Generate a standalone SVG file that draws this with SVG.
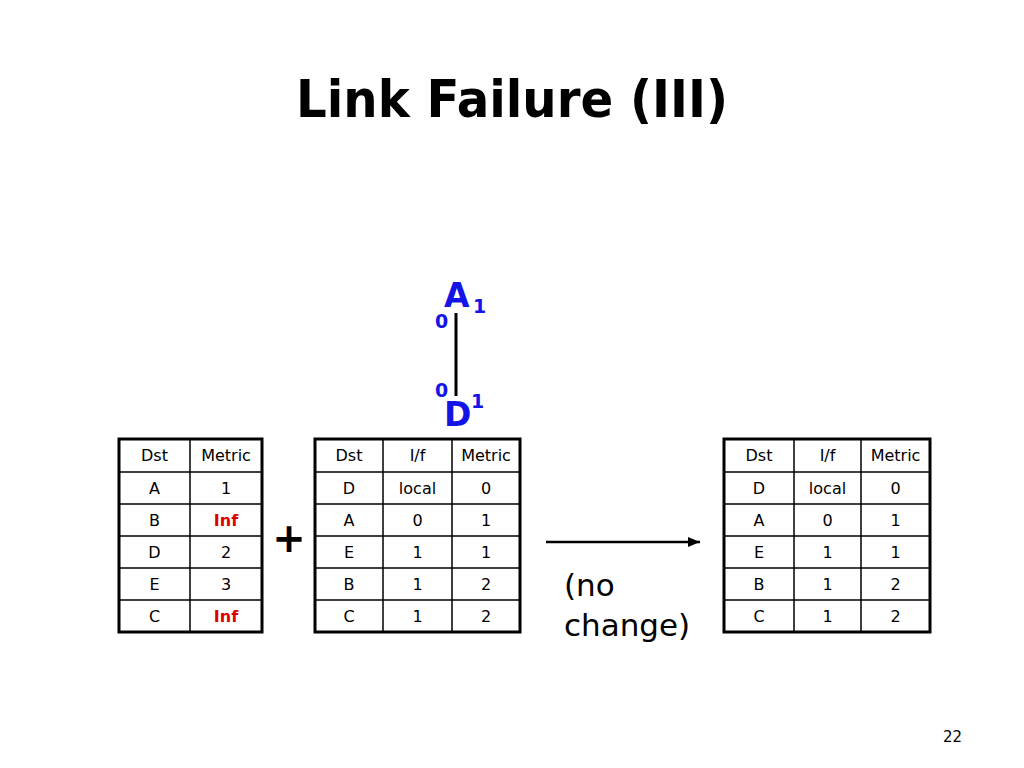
<svg xmlns="http://www.w3.org/2000/svg" width="1024" height="768" viewBox="0 0 1024 768">
<defs>
<style>
text{font-family:"DejaVu Sans","Liberation Sans",sans-serif}
.title{font-size:52px;font-weight:bold;fill:#000}
.cell{font-size:16px;fill:#000;text-anchor:middle}
.inf{font-size:16px;fill:#e00000;font-weight:bold;text-anchor:middle}
.node{font-size:33px;font-weight:bold;fill:#1414e6}
.port{font-size:19px;font-weight:bold;fill:#1414e6}
.outer{fill:#fff;stroke:#000;stroke-width:3}
.inner{stroke:#000;stroke-width:1.5;fill:none}
.big{font-size:31px;fill:#000}
</style>
<marker id="ah" viewBox="0 0 12 10" refX="12" refY="5" markerWidth="12" markerHeight="10" markerUnits="userSpaceOnUse" orient="auto">
<path d="M0,0 L12,5 L0,10 z" fill="#000"/>
</marker>
</defs>
<rect width="1024" height="768" fill="#fff"/>
<text class="title" x="512" y="117" text-anchor="middle" textLength="432" lengthAdjust="spacingAndGlyphs">Link Failure (III)</text>

<g id="connectors">
<line x1="456" y1="313" x2="456" y2="396" stroke="#000" stroke-width="3"/>
<line x1="546" y1="542" x2="700" y2="542" stroke="#000" stroke-width="2.5" marker-end="url(#ah)"/>
</g>

<g id="node-A">
<text class="node" x="444" y="307">A</text>
<text class="port" x="473" y="313">1</text>
<text class="port" x="435" y="328">0</text>
</g>
<g id="node-D">
<text class="node" x="444" y="426">D</text>
<text class="port" x="471" y="408">1</text>
<text class="port" x="435" y="397">0</text>
</g>

<g id="table-1">
<rect class="outer" x="119" y="439" width="143" height="193"/>
<path class="inner" d="M190,439V632M119,472H262M119,504H262M119,536H262M119,568H262M119,600H262"/>
<text class="cell" x="154.5" y="461">Dst</text><text class="cell" x="226" y="461">Metric</text>
<text class="cell" x="154.5" y="494">A</text><text class="cell" x="226" y="494">1</text>
<text class="cell" x="154.5" y="526">B</text><text class="inf" x="226" y="526">Inf</text>
<text class="cell" x="154.5" y="558">D</text><text class="cell" x="226" y="558">2</text>
<text class="cell" x="154.5" y="590">E</text><text class="cell" x="226" y="590">3</text>
<text class="cell" x="154.5" y="622">C</text><text class="inf" x="226" y="622">Inf</text>
</g>

<g id="plus">
<text x="289" y="552" font-size="40" font-weight="bold" text-anchor="middle">+</text>
</g>

<g id="table-2">
<rect class="outer" x="315" y="439" width="205" height="193"/>
<path class="inner" d="M383,439V632M452,439V632M315,472H520M315,504H520M315,536H520M315,568H520M315,600H520"/>
<text class="cell" x="349" y="461">Dst</text><text class="cell" x="417.5" y="461">I/f</text><text class="cell" x="486" y="461">Metric</text>
<text class="cell" x="349" y="494">D</text><text class="cell" x="417.5" y="494">local</text><text class="cell" x="486" y="494">0</text>
<text class="cell" x="349" y="526">A</text><text class="cell" x="417.5" y="526">0</text><text class="cell" x="486" y="526">1</text>
<text class="cell" x="349" y="558">E</text><text class="cell" x="417.5" y="558">1</text><text class="cell" x="486" y="558">1</text>
<text class="cell" x="349" y="590">B</text><text class="cell" x="417.5" y="590">1</text><text class="cell" x="486" y="590">2</text>
<text class="cell" x="349" y="622">C</text><text class="cell" x="417.5" y="622">1</text><text class="cell" x="486" y="622">2</text>
</g>

<g id="note">
<text class="big" x="564" y="596">(no</text>
<text class="big" x="564" y="636">change)</text>
</g>

<g id="table-3">
<rect class="outer" x="724" y="439" width="206" height="193"/>
<path class="inner" d="M794,439V632M861,439V632M724,472H930M724,504H930M724,536H930M724,568H930M724,600H930"/>
<text class="cell" x="759" y="461">Dst</text><text class="cell" x="827.5" y="461">I/f</text><text class="cell" x="895.5" y="461">Metric</text>
<text class="cell" x="759" y="494">D</text><text class="cell" x="827.5" y="494">local</text><text class="cell" x="895.5" y="494">0</text>
<text class="cell" x="759" y="526">A</text><text class="cell" x="827.5" y="526">0</text><text class="cell" x="895.5" y="526">1</text>
<text class="cell" x="759" y="558">E</text><text class="cell" x="827.5" y="558">1</text><text class="cell" x="895.5" y="558">1</text>
<text class="cell" x="759" y="590">B</text><text class="cell" x="827.5" y="590">1</text><text class="cell" x="895.5" y="590">2</text>
<text class="cell" x="759" y="622">C</text><text class="cell" x="827.5" y="622">1</text><text class="cell" x="895.5" y="622">2</text>
</g>

<text x="962" y="742" font-size="15" text-anchor="end">22</text>
</svg>
